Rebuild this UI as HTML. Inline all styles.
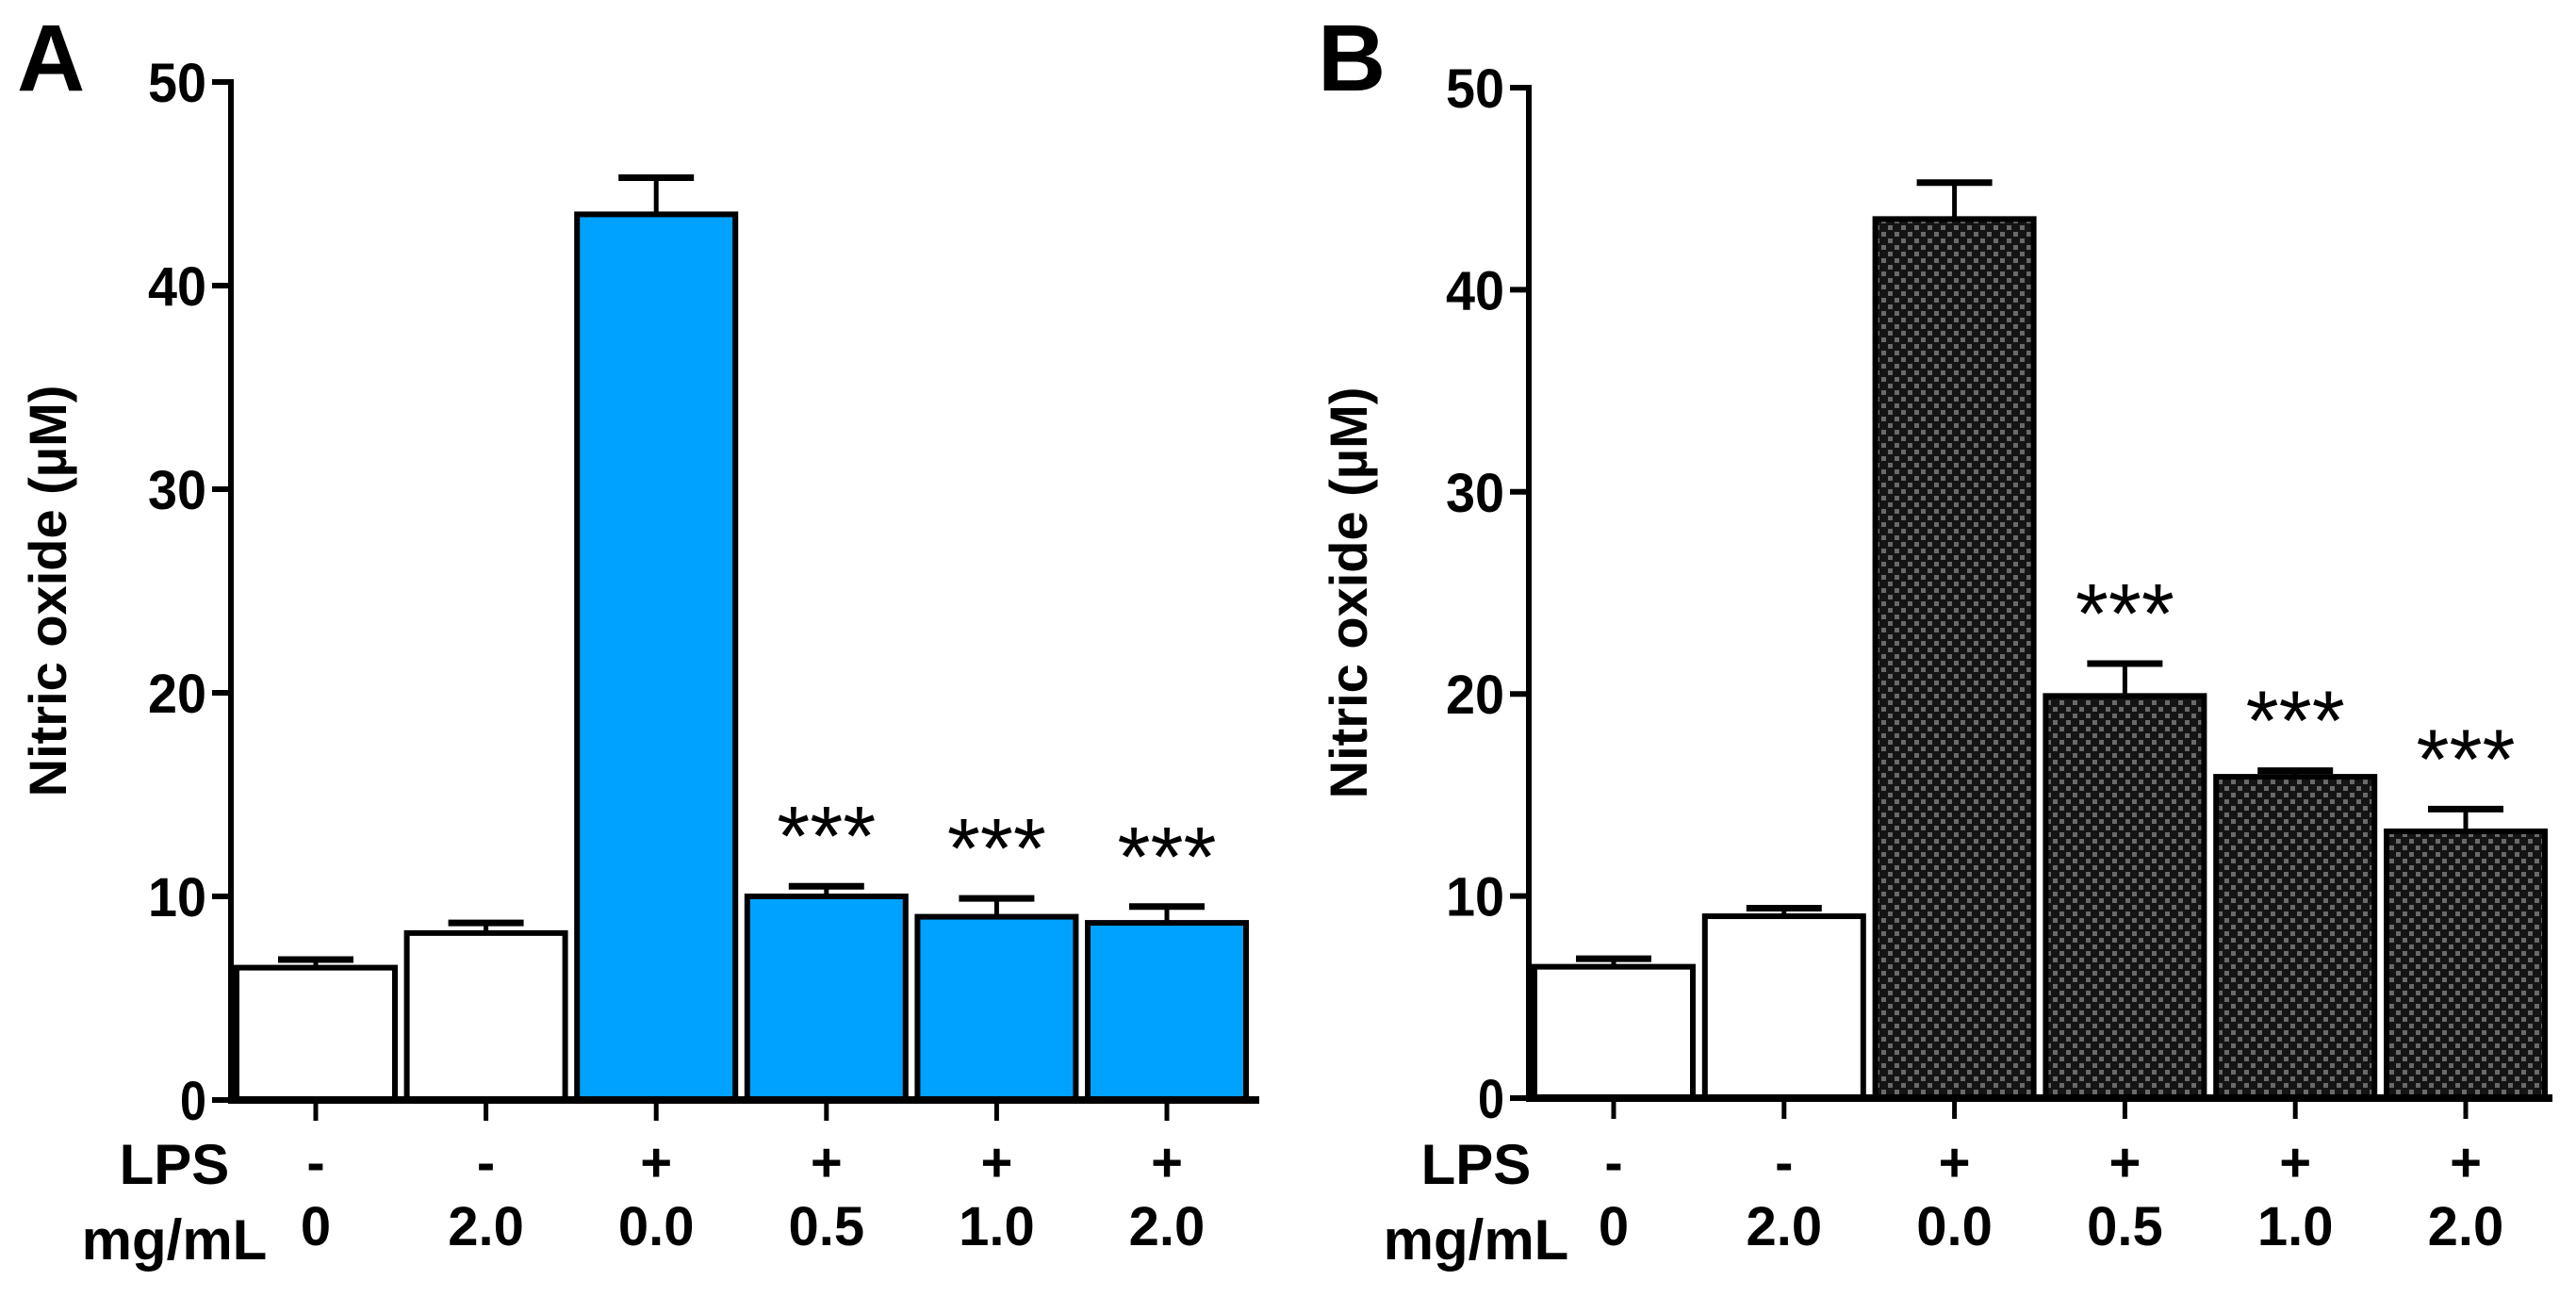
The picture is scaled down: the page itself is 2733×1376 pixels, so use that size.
<!DOCTYPE html>
<html><head><meta charset="utf-8"><style>
html,body{margin:0;padding:0;background:#fff;}
svg{display:block;font-family:"Liberation Sans",Arial,sans-serif;}
</style></head><body>
<svg id="fig" width="2733" height="1376" viewBox="0 0 2733 1376" xmlns="http://www.w3.org/2000/svg">
<defs>
<pattern id="checker" width="14" height="14" patternUnits="userSpaceOnUse">
<rect width="14" height="14" fill="#141414"/>
<rect x="1" y="1" width="5" height="5" fill="#6a6a6a"/>
<rect x="8" y="8" width="5" height="5" fill="#6a6a6a"/>
</pattern>
</defs>
<g id="panelA"></g>
<g id="panelB"></g>
</svg>
<script>
const categories = ["c1","c2","c3","c4","c5","c6"];
const lpsLabels = ["-","-","+","+","+","+"];
const doseLabels = ["0","2.0","0.0","0.5","1.0","2.0"];
const yTicks = [0,10,20,30,40,50];
const valuesA = [6.5, 8.2, 43.5, 10.0, 9.0, 8.7];
const errorsA = [0.4, 0.5, 1.8, 0.5, 0.9, 0.8];
const starsA = ["", "", "", "***", "***", "***"];
const valuesB = [6.5, 9.0, 43.5, 19.9, 15.9, 13.2];
const errorsB = [0.4, 0.4, 1.8, 1.6, 0.3, 1.1];
const starsB = ["", "", "", "***", "***", "***"];

const NS = "http://www.w3.org/2000/svg";
function mk(parent, tag, attrs, text){
  const e = document.createElementNS(NS, tag);
  for (const k in attrs) e.setAttribute(k, attrs[k]);
  if (text !== undefined) e.textContent = text;
  parent.appendChild(e);
  return e;
}

function drawPanel(g, cfg, values, errors, stars){
  const y = v => cfg.y0 - v * (cfg.y0 - cfg.y50) / 50;
  const xc = i => cfg.xFirst + i * cfg.step;
  let t = mk(g, "text", {x: cfg.letterX, y: 96, "font-size": 100, "font-weight": "bold"}, cfg.letter);
  
  
  t = mk(g, "text", {x: 0, y: 0, "font-size": 56, "font-weight": "bold", "text-anchor": "middle",
    transform: "translate(" + cfg.titleX + "," + ((cfg.y0 + cfg.y50) / 2) + ") rotate(-90)"}, "Nitric oxide (\u00b5M)");
  
  
  values.forEach((v, i) => {
    const top = y(v);
    const fill = i < 2 ? "#ffffff" : cfg.fill;
    const r = mk(g, "rect", {x: xc(i) - cfg.barW / 2, y: top, width: cfg.barW, height: cfg.y0 - top,
      fill: fill, stroke: "#000", "stroke-width": 6});
    
    
    const et = y(v + errors[i]);
    const eg = mk(g, "g", {});
    
    
    mk(eg, "line", {x1: xc(i), x2: xc(i), y1: top, y2: et, stroke: "#000", "stroke-width": 5});
    mk(eg, "line", {x1: xc(i) - 40, x2: xc(i) + 40, y1: et, y2: et, stroke: "#000", "stroke-width": 7});
    if (stars[i]) {
      const s = mk(g, "text", {x: xc(i), y: et - 22, "font-size": 90, "text-anchor": "middle"}, stars[i]);
      
      
    }
  });
  let a = mk(g, "line", {x1: cfg.axisX, x2: cfg.axisX, y1: cfg.y50 - 3, y2: cfg.y0 + 3, stroke: "#000", "stroke-width": 6});
  
  
  a = mk(g, "line", {x1: cfg.axisX - 3, x2: cfg.xEnd, y1: cfg.y0, y2: cfg.y0, stroke: "#000", "stroke-width": 8});
  
  
  yTicks.forEach(v => {
    mk(g, "line", {x1: cfg.axisX - 20, x2: cfg.axisX, y1: y(v), y2: y(v), stroke: "#000", "stroke-width": 6});
    const tl = mk(g, "text", {x: cfg.axisX - 26, y: y(v) + 21, "font-size": 58, "font-weight": "bold", "text-anchor": "end", "textLength": v === 0 ? 28 : 62, "lengthAdjust": "spacingAndGlyphs"}, String(v));
    
    
  });
  categories.forEach((c, i) => {
    mk(g, "line", {x1: xc(i), x2: xc(i), y1: cfg.y0, y2: cfg.y0 + 22, stroke: "#000", "stroke-width": 5});
    const l1 = mk(g, "text", {x: xc(i), y: 1253, "font-size": 58, "font-weight": "bold", "text-anchor": "middle"}, lpsLabels[i]);
    
    
    const l2 = mk(g, "text", {x: xc(i), y: 1321, "font-size": 58, "font-weight": "bold", "text-anchor": "middle"}, doseLabels[i]);
    
    
  });
  let r1 = mk(g, "text", {x: cfg.rowX, y: 1256, "font-size": 60, "font-weight": "bold", "text-anchor": "middle"}, "LPS");
  
  
  let r2 = mk(g, "text", {x: cfg.rowX, y: 1336, "font-size": 60, "font-weight": "bold", "text-anchor": "middle"}, "mg/mL");
  
  
}

drawPanel(document.getElementById("panelA"),
  {letter: "A", letterX: 18, titleX: 70, axisX: 245, y0: 1167, y50: 87, xFirst: 335, step: 180.6, barW: 168, xEnd: 1336, fill: "#00a2ff", rowX: 185},
  valuesA, errorsA, starsA);
drawPanel(document.getElementById("panelB"),
  {letter: "B", letterX: 1398, titleX: 1450, axisX: 1622, y0: 1165, y50: 93, xFirst: 1712, step: 180.8, barW: 168, xEnd: 2708, fill: "url(#checker)", rowX: 1566},
  valuesB, errorsB, starsB);
</script>
</body></html>
